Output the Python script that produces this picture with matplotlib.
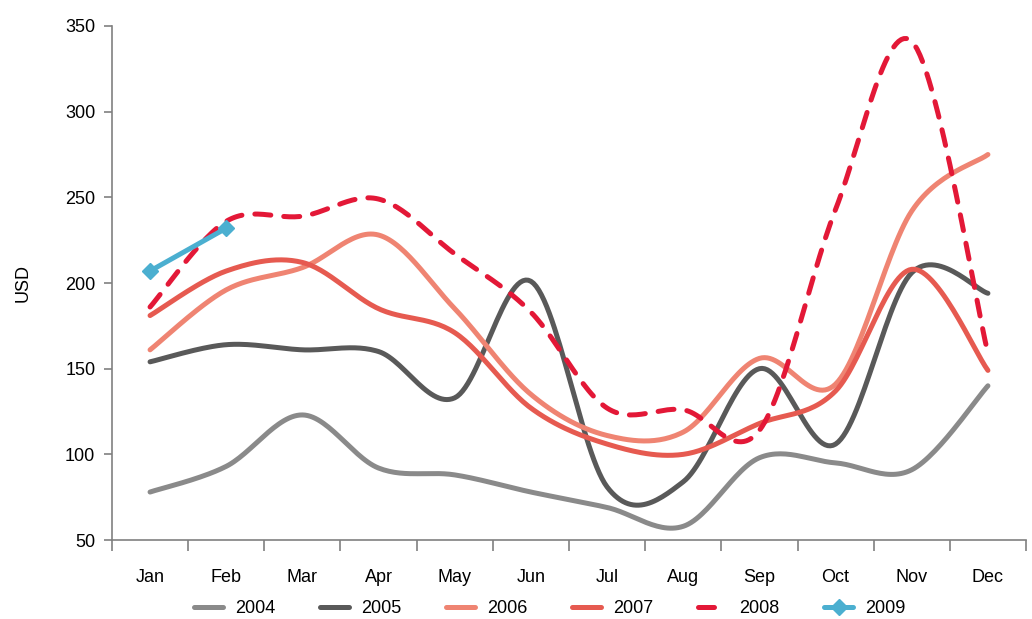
import numpy as np
import matplotlib
matplotlib.use("Agg")
import matplotlib.pyplot as plt

plt.rcParams['font.family'] = ['Liberation Sans', 'DejaVu Sans']

months = ["Jan", "Feb", "Mar", "Apr", "May", "Jun",
          "Jul", "Aug", "Sep", "Oct", "Nov", "Dec"]

usd_2004 = [78, 93, 123, 92, 88, 78, 69, 58, 98, 95, 91, 140]
usd_2005 = [154, 164, 161, 160, 133, 201, 81, 84, 150, 106, 206, 194]
usd_2006 = [161, 196, 209, 228, 185, 135, 111, 113, 156, 141, 242, 275]
usd_2007 = [181, 207, 212, 185, 171, 127, 106, 100, 118, 137, 208, 149]
usd_2008 = [186, 236, 239, 249, 217, 183, 127, 126, 114, 243, 341, 159]
usd_2009 = [207, 232]

series = [
    ("2004", usd_2004, "#8a8a8a", "-"),
    ("2005", usd_2005, "#595959", "-"),
    ("2006", usd_2006, "#ef8472", "-"),
    ("2007", usd_2007, "#e65a50", "-"),
    ("2008", usd_2008, "#e31837", "--"),
]


def smooth(x, y, n=30):
    # Bezier smoothing through every point (tension 1/6), like spreadsheet "smoothed lines"
    x = np.asarray(x, float)
    y = np.asarray(y, float)
    px = np.concatenate([[x[0]], x, [x[-1]]])
    py = np.concatenate([[y[0]], y, [y[-1]]])
    xs, ys = [x[0]], [y[0]]
    t = np.linspace(0, 1, n)[1:]
    for i in range(1, len(px) - 2):
        p0 = np.array([px[i], py[i]])
        p3 = np.array([px[i + 1], py[i + 1]])
        c1 = p0 + (np.array([px[i + 1], py[i + 1]]) - np.array([px[i - 1], py[i - 1]])) / 6
        c2 = p3 - (np.array([px[i + 2], py[i + 2]]) - np.array([px[i], py[i]])) / 6
        b = ((1 - t) ** 3)[:, None] * p0 + (3 * (1 - t) ** 2 * t)[:, None] * c1 \
            + (3 * (1 - t) * t ** 2)[:, None] * c2 + (t ** 3)[:, None] * p3
        xs.extend(b[:, 0])
        ys.extend(b[:, 1])
    return np.array(xs), np.array(ys)


fig = plt.figure(figsize=(10.32, 6.19), dpi=100)
ax = fig.add_axes([0.1085, 0.1276, 0.8857, 0.8304])

x = np.arange(len(months))
for name, vals, color, ls in series:
    sx, sy = smooth(x[:len(vals)], vals)
    if ls == "--":
        ax.plot(sx, sy, color=color, lw=3.6, linestyle=(0, (3.2, 2.6)),
                dash_capstyle="round", label=name)
    else:
        ax.plot(sx, sy, color=color, lw=3.6, solid_capstyle="round", label=name)

sx, sy = smooth(x[:len(usd_2009)], usd_2009)
ax.plot(sx, sy, color="#4bafd0", lw=3.6, solid_capstyle="round")
ax.plot(x[:len(usd_2009)], usd_2009, color="#4bafd0", lw=3.6, marker="D",
        markersize=8, linestyle="none")
ax.plot([], [], color="#4bafd0", lw=3.6, marker="D", markersize=8,
        solid_capstyle="round", label="2009")

ax.set_xlim(-0.5, 11.5)
ax.set_ylim(50, 350)
ax.set_yticks(np.arange(50, 351, 50))
ax.set_xticks(x)
ax.set_xticklabels(months)
ax.set_xticks(np.arange(-0.5, 12, 1), minor=True)
ax.tick_params(axis="x", which="major", length=0, pad=21, labelsize=13)
ax.tick_params(axis="x", which="minor", length=8, width=1.2, color="#808080", direction="out")
ax.tick_params(axis="y", length=6, width=1.2, color="#808080", labelsize=13, pad=6)
ax.set_ylabel("USD", fontsize=13, labelpad=24)

for side in ["top", "right"]:
    ax.spines[side].set_visible(False)
for side in ["left", "bottom"]:
    ax.spines[side].set_color("#808080")
    ax.spines[side].set_linewidth(1.2)

ax.legend(loc="center", bbox_to_anchor=(0.479, -0.133), ncol=6, frameon=False,
          fontsize=13, handlelength=1.6, columnspacing=2.5, handletextpad=0.65)

fig.savefig("out.png", dpi=100)
